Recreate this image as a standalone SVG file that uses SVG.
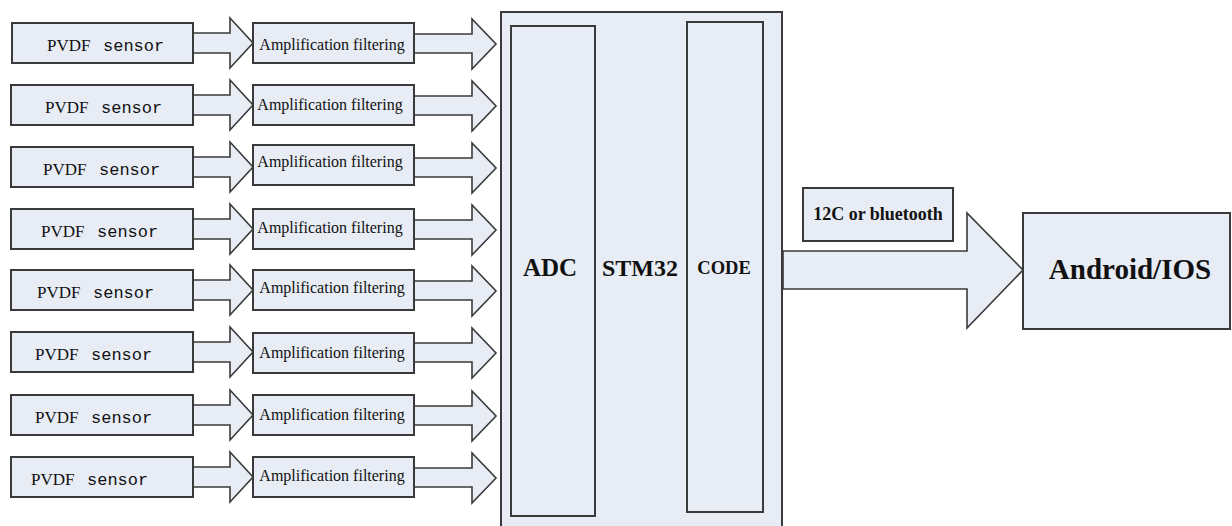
<svg xmlns="http://www.w3.org/2000/svg" width="1232" height="526" viewBox="0 0 1232 526">
<style>
.box{fill:#e7ecf5;stroke:#3a3a3a;stroke-width:2}
.arr{fill:#e7ecf5;stroke:#3a3a3a;stroke-width:1.6;stroke-linejoin:miter}
.pv{font-size:17px;fill:#111}
.ser{font-family:"Liberation Serif","Times New Roman",serif}
.mono{font-family:"Liberation Mono","Courier New",monospace}
.amp{font-family:"Liberation Serif",serif;font-size:16px;fill:#111}
.b{font-family:"Liberation Serif",serif;font-weight:bold;fill:#111}
</style>
<rect width="1232" height="526" fill="#ffffff"/>
<g id="connectors">
<polygon class="arr" points="193,33 230,33 230,18 253,43 230,68 230,53 193,53"/>
<polygon class="arr" points="414,34 472,34 472,19 496,44 472,69 472,53 414,53"/>
<polygon class="arr" points="193,95 230,95 230,80 253,105 230,130 230,115 193,115"/>
<polygon class="arr" points="414,96 472,96 472,81 496,106 472,131 472,115 414,115"/>
<polygon class="arr" points="193,157 230,157 230,142 253,167 230,192 230,177 193,177"/>
<polygon class="arr" points="414,158 472,158 472,143 496,168 472,193 472,177 414,177"/>
<polygon class="arr" points="193,219 230,219 230,204 253,229 230,254 230,239 193,239"/>
<polygon class="arr" points="414,220 472,220 472,205 496,230 472,255 472,239 414,239"/>
<polygon class="arr" points="193,280 230,280 230,265 253,290 230,315 230,300 193,300"/>
<polygon class="arr" points="414,281 472,281 472,266 496,291 472,316 472,300 414,300"/>
<polygon class="arr" points="193,342 230,342 230,327 253,352 230,377 230,362 193,362"/>
<polygon class="arr" points="414,343 472,343 472,328 496,353 472,378 472,362 414,362"/>
<polygon class="arr" points="193,405 230,405 230,390 253,415 230,440 230,425 193,425"/>
<polygon class="arr" points="414,406 472,406 472,391 496,416 472,441 472,425 414,425"/>
<polygon class="arr" points="193,467 230,467 230,452 253,477 230,502 230,487 193,487"/>
<polygon class="arr" points="414,468 472,468 472,453 496,478 472,503 472,487 414,487"/>
<polygon class="arr" points="783,251 967,251 967,213 1023,270 967,328 967,289 783,289"/>
</g>
<g id="sensor1"><rect class="box" x="12" y="23" width="181" height="40"/><text class="pv" y="51"><tspan class="ser" x="47">PVDF</tspan><tspan class="mono" x="103">sensor</tspan></text></g>
<g id="sensor2"><rect class="box" x="11" y="85" width="182" height="40"/><text class="pv" y="113"><tspan class="ser" x="45">PVDF</tspan><tspan class="mono" x="101">sensor</tspan></text></g>
<g id="sensor3"><rect class="box" x="11" y="147" width="182" height="40"/><text class="pv" y="175"><tspan class="ser" x="43">PVDF</tspan><tspan class="mono" x="99">sensor</tspan></text></g>
<g id="sensor4"><rect class="box" x="11" y="209" width="182" height="40"/><text class="pv" y="237"><tspan class="ser" x="41">PVDF</tspan><tspan class="mono" x="97">sensor</tspan></text></g>
<g id="sensor5"><rect class="box" x="11" y="270" width="182" height="40"/><text class="pv" y="298"><tspan class="ser" x="37">PVDF</tspan><tspan class="mono" x="93">sensor</tspan></text></g>
<g id="sensor6"><rect class="box" x="11" y="332" width="182" height="40"/><text class="pv" y="360"><tspan class="ser" x="35">PVDF</tspan><tspan class="mono" x="91">sensor</tspan></text></g>
<g id="sensor7"><rect class="box" x="11" y="395" width="182" height="40"/><text class="pv" y="423"><tspan class="ser" x="35">PVDF</tspan><tspan class="mono" x="91">sensor</tspan></text></g>
<g id="sensor8"><rect class="box" x="11" y="457" width="182" height="40"/><text class="pv" y="485"><tspan class="ser" x="31">PVDF</tspan><tspan class="mono" x="87">sensor</tspan></text></g>
<g id="amp1"><rect class="box" x="253" y="23" width="161" height="40"/><text class="amp" x="332" y="50" text-anchor="middle">Amplification filtering</text></g>
<g id="amp2"><rect class="box" x="253" y="85" width="161" height="40"/><text class="amp" x="330" y="110" text-anchor="middle">Amplification filtering</text></g>
<g id="amp3"><rect class="box" x="253" y="145" width="161" height="40"/><text class="amp" x="330" y="167" text-anchor="middle">Amplification filtering</text></g>
<g id="amp4"><rect class="box" x="253" y="209" width="161" height="40"/><text class="amp" x="330" y="233" text-anchor="middle">Amplification filtering</text></g>
<g id="amp5"><rect class="box" x="253" y="270" width="161" height="40"/><text class="amp" x="332" y="293" text-anchor="middle">Amplification filtering</text></g>
<g id="amp6"><rect class="box" x="253" y="333" width="161" height="40"/><text class="amp" x="332" y="358" text-anchor="middle">Amplification filtering</text></g>
<g id="amp7"><rect class="box" x="253" y="395" width="161" height="40"/><text class="amp" x="332" y="420" text-anchor="middle">Amplification filtering</text></g>
<g id="amp8"><rect class="box" x="253" y="457" width="161" height="40"/><text class="amp" x="332" y="481" text-anchor="middle">Amplification filtering</text></g>
<g id="stm32"><rect class="box" x="501" y="12" width="281" height="530"/><text class="b" x="640" y="276" font-size="24" text-anchor="middle">STM32</text></g>
<g id="adc"><rect class="box" x="511" y="26" width="84" height="490"/><text class="b" x="550" y="276" font-size="25" text-anchor="middle">ADC</text></g>
<g id="code"><rect class="box" x="687" y="22" width="76" height="490"/><text class="b" x="724" y="274" font-size="18.5" text-anchor="middle">CODE</text></g>
<g id="link"><rect class="box" x="803" y="188" width="150" height="53"/><text class="b" x="878" y="220" font-size="18" text-anchor="middle">12C or bluetooth</text></g>
<g id="phone"><rect class="box" x="1023" y="213" width="207" height="116"/><text class="b" x="1130" y="279" font-size="29" text-anchor="middle">Android/IOS</text></g>
</svg>
